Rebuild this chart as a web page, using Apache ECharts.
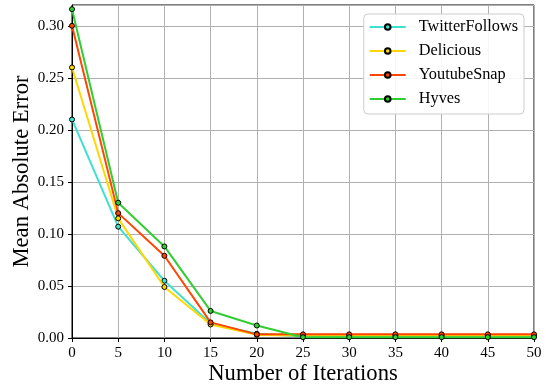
<!DOCTYPE html>
<html><head><meta charset="utf-8">
<script src="https://cdn.jsdelivr.net/npm/echarts@6/dist/echarts.min.js"></script>
<style>html,body{margin:0;padding:0;background:#fff}#c{width:546px;height:384px}</style>
</head><body><div id="c"></div>
<script>
const iterations = [0,5,10,15,20,25,30,35,40,45,50];
const twitterFollows = [0.210,0.107,0.055,0.014,0.004,0.0015,0.0015,0.0015,0.0015,0.0015,0.0015];
const delicious = [0.260,0.115,0.049,0.013,0.003,0.0025,0.0025,0.0025,0.0025,0.0025,0.0025];
const youtubeSnap = [0.300,0.120,0.079,0.015,0.0035,0.0035,0.0035,0.0035,0.0035,0.0035,0.0035];
const hyves = [0.316,0.130,0.088,0.026,0.012,0.0008,0.0008,0.0008,0.0008,0.0008,0.0008];
const names = ['TwitterFollows','Delicious','YoutubeSnap','Hyves'];
const colors = ['#40E0D0','#FFD700','#FF4500','#32CD32'];
const values = [twitterFollows, delicious, youtubeSnap, hyves];
const font = 'Liberation Serif';
const chart = echarts.init(document.getElementById('c'), null, {renderer:'canvas'});
chart.setOption({
  animation:false,
  textStyle:{fontFamily:font},
  grid:{left:72,right:12,top:5,bottom:46,show:true,borderColor:'#000',borderWidth:1,
        containLabel:false, outerBoundsMode:'none'},
  legend:{
    data:names, right:22, top:14, orient:'vertical',
    itemWidth:36, itemHeight:7, itemGap:8,
    padding:[5,6,7,5],
    borderColor:'#cccccc', borderWidth:1, borderRadius:4, backgroundColor:'rgba(255,255,255,0.9)',
    textStyle:{fontFamily:font,fontSize:16.3,color:'#000',padding:[0,0,0,8]}
  },
  xAxis:{
    type:'value', min:0, max:50, interval:5,
    name:'Number of Iterations', nameLocation:'middle', nameGap:25, nameMoveOverlap:false,
    nameTextStyle:{fontFamily:font,fontSize:22.6,color:'#000'},
    axisLine:{lineStyle:{color:'#000',width:1}},
    axisTick:{show:true,length:4,lineStyle:{color:'#000'}},
    axisLabel:{fontFamily:font,fontSize:15,color:'#000',margin:8},
    splitLine:{show:true,lineStyle:{color:'#b0b0b0',width:1}}
  },
  yAxis:{
    type:'value', min:0, max:0.32, interval:0.05,
    name:'Mean Absolute Error', nameLocation:'middle', nameGap:38, nameMoveOverlap:false,
    nameTextStyle:{fontFamily:font,fontSize:22.6,color:'#000'},
    axisLine:{show:true,lineStyle:{color:'#000',width:1}},
    axisTick:{show:true,length:4,lineStyle:{color:'#000'}},
    axisLabel:{fontFamily:font,fontSize:15,color:'#000',margin:8,
      formatter:v=>v.toFixed(2), showMaxLabel:false},
    splitLine:{show:true,lineStyle:{color:'#b0b0b0',width:1}}
  },
  series: names.map((n,i)=>({
    name:n, type:'line',
    data: iterations.map((x,j)=>[x, values[i][j]]),
    symbol:'circle', symbolSize:5,
    lineStyle:{color:colors[i],width:2},
    itemStyle:{color:colors[i],borderColor:'#000',borderWidth:1},
    z:2+i
  }))
});
</script></body></html>
